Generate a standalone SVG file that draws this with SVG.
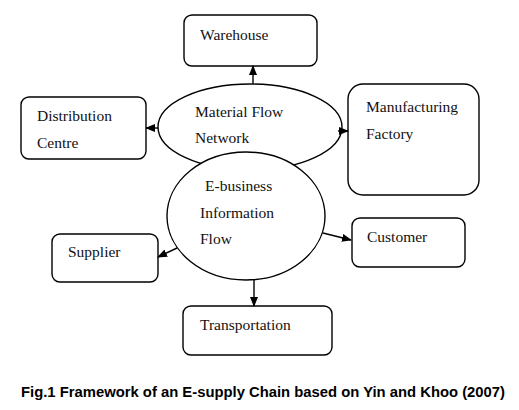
<svg xmlns="http://www.w3.org/2000/svg" width="519" height="410" viewBox="0 0 519 410">
<style>
.box{fill:#fff;stroke:#000;stroke-width:1.4}
.ell{fill:#fff;stroke:#000;stroke-width:1.4}
.lbl{font-size:15.5px;fill:#111}
.con{stroke:#000;stroke-width:1.4;fill:none}
.cap{font-family:'Liberation Sans',Arial,sans-serif;font-size:14.5px;font-weight:bold;fill:#000}
</style>
<defs>
<marker id="arr" markerWidth="10" markerHeight="8" refX="9" refY="4" orient="auto" markerUnits="userSpaceOnUse">
<path d="M0,0 L10,4 L0,8 Z" fill="#000"/>
</marker>
</defs>
<rect width="519" height="410" fill="#fff"/>
<g font-family="Liberation Serif, Times New Roman, Tinos, serif">
<g id="material-flow">
<ellipse class="ell" cx="250" cy="127" rx="92" ry="43"/>
<text class="lbl" x="195" y="117">Material Flow</text>
<text class="lbl" x="195" y="143">Network</text>
</g>
<g id="ebusiness">
<ellipse class="ell" cx="246" cy="216" rx="79" ry="64"/>
<text class="lbl" x="205" y="191">E-business</text>
<text class="lbl" x="200" y="218">Information</text>
<text class="lbl" x="200" y="244">Flow</text>
</g>
<g id="warehouse">
<rect class="box" x="184" y="15" width="133" height="51" rx="8"/>
<text class="lbl" x="200" y="40">Warehouse</text>
</g>
<g id="distribution">
<rect class="box" x="21" y="97" width="125" height="62" rx="8"/>
<text class="lbl" x="37" y="121">Distribution</text>
<text class="lbl" x="37" y="148">Centre</text>
</g>
<g id="manufacturing">
<rect class="box" x="348" y="84" width="131" height="111" rx="15"/>
<text class="lbl" x="366" y="112">Manufacturing</text>
<text class="lbl" x="366" y="139">Factory</text>
</g>
<g id="customer">
<rect class="box" x="352" y="218" width="113" height="49" rx="8"/>
<text class="lbl" x="367" y="242">Customer</text>
</g>
<g id="supplier">
<rect class="box" x="52" y="234" width="106" height="48" rx="8"/>
<text class="lbl" x="68" y="257">Supplier</text>
</g>
<g id="transportation">
<rect class="box" x="183" y="306" width="149" height="49" rx="8"/>
<text class="lbl" x="200" y="330">Transportation</text>
</g>
</g>
<g id="connectors">
<line class="con" x1="253" y1="84" x2="253" y2="66" marker-end="url(#arr)"/>
<line class="con" x1="158" y1="128" x2="146" y2="128" marker-end="url(#arr)"/>
<line class="con" x1="338" y1="131" x2="348" y2="131" marker-end="url(#arr)"/>
<line class="con" x1="177" y1="248" x2="158" y2="257" marker-end="url(#arr)"/>
<line class="con" x1="323" y1="233" x2="351" y2="240" marker-end="url(#arr)"/>
<line class="con" x1="254" y1="280" x2="254" y2="306" marker-end="url(#arr)"/>
</g>
<text class="cap" x="21" y="397" textLength="484" lengthAdjust="spacingAndGlyphs">Fig.1 Framework of an E-supply Chain based on Yin and Khoo (2007)</text>
</svg>
